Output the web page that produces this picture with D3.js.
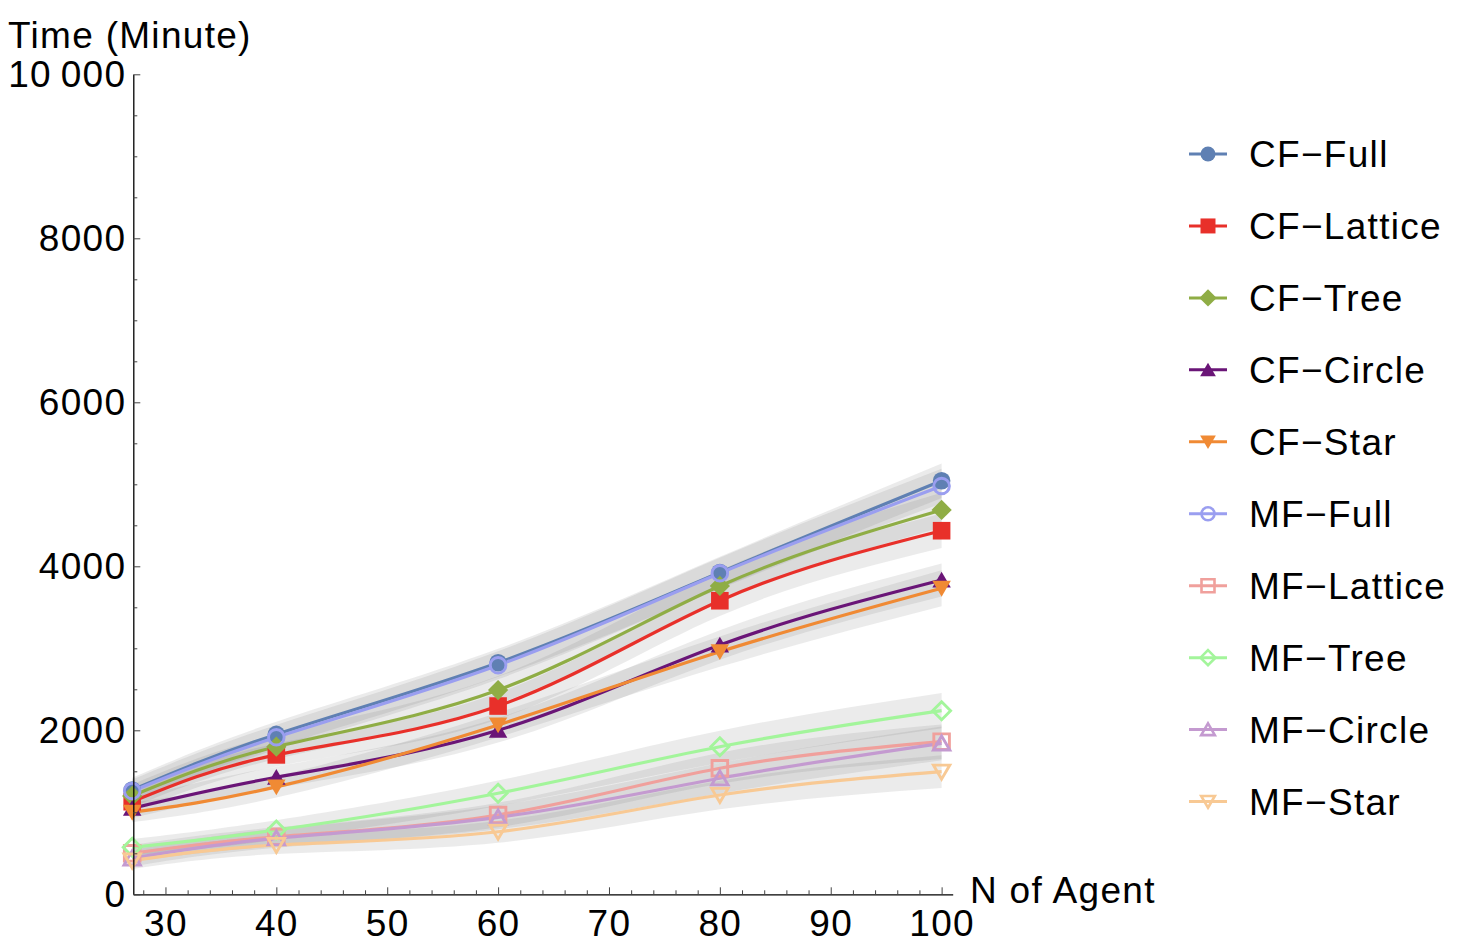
<!DOCTYPE html>
<html>
<head>
<meta charset="utf-8">
<script src="https://cdn.jsdelivr.net/npm/d3@7/dist/d3.min.js"></script>
<style>
  html, body { margin: 0; padding: 0; background: #fff; }
  svg text { font-family: "Liberation Sans", Arial, Helvetica, sans-serif; fill: #000; }
</style>
</head>
<body>
<svg id="chart" width="1480" height="950"></svg>
<script>
// ---------------- data ----------------
const nAgents = [27, 40, 60, 80, 100];

const seriesNames = ["CF\u2212Full", "CF\u2212Lattice", "CF\u2212Tree", "CF\u2212Circle", "CF\u2212Star",
                     "MF\u2212Full", "MF\u2212Lattice", "MF\u2212Tree", "MF\u2212Circle", "MF\u2212Star"];

const cfFull    = [1272, 1950, 2824, 3925, 5044];
const cfLattice = [1129, 1700, 2296, 3580, 4434];
const cfTree    = [1200, 1800, 2491, 3760, 4687];
const cfCircle  = [1049, 1427, 2000, 3040, 3833];
const cfStar    = [1000, 1310, 2065, 2959, 3732];
const mfFull    = [1260, 1915, 2793, 3915, 4979];
const mfLattice = [500, 702, 967, 1537, 1861];
const mfTree    = [573, 784, 1232, 1800, 2239];
const mfCircle  = [439, 683, 939, 1415, 1841];
const mfStar    = [410, 601, 763, 1211, 1495];

// half-width of the grey uncertainty band around each series
const cfFullErr    = [150, 155, 170, 190, 210];
const cfLatticeErr = [130, 140, 160, 185, 210];
const cfTreeErr    = [140, 150, 170, 190, 210];
const cfCircleErr  = [120, 130, 150, 180, 200];
const cfStarErr    = [120, 130, 150, 185, 220];
const mfFullErr    = [140, 150, 170, 190, 210];
const mfLatticeErr = [100, 115, 150, 190, 210];
const mfTreeErr    = [100, 120, 155, 195, 215];
const mfCircleErr  = [100, 115, 145, 185, 205];
const mfStarErr    = [100, 110, 135, 175, 200];

const xTicks = [30, 40, 50, 60, 70, 80, 90, 100];
const yTicks = [0, 2000, 4000, 6000, 8000, 10000];
const yTickLabels = ["0", "2000", "4000", "6000", "8000", "10\u2009000"];

// ---------------- styling ----------------
const seriesValues = [cfFull, cfLattice, cfTree, cfCircle, cfStar, mfFull, mfLattice, mfTree, mfCircle, mfStar];
const seriesErrs = [cfFullErr, cfLatticeErr, cfTreeErr, cfCircleErr, cfStarErr,
                    mfFullErr, mfLatticeErr, mfTreeErr, mfCircleErr, mfStarErr];
const colors = ["#5f80b3", "#e8302a", "#8fad45", "#6a1577", "#f08a34",
                "#9a9ef0", "#f0a09c", "#a3f59b", "#c49ad0", "#f8c994"];
const shapes = ["circle", "square", "diamond", "up", "down", "circle", "square", "diamond", "up", "down"];
const filled = [true, true, true, true, true, false, false, false, false, false];

const series = seriesNames.map((name, i) => ({
  name, color: colors[i], shape: shapes[i], filled: filled[i],
  pts: nAgents.map((n, j) => ({ x: n, y: seriesValues[i][j], e: seriesErrs[i][j] }))
}));

const svg = d3.select("#chart");
const FONT = 37, LS = "1.3px";

const x = d3.scaleLinear().domain([27.1, 101]).range([133.3, 952.7]);
const y = d3.scaleLinear().domain([0, 10000]).range([894.3, 74.3]);

function markerPath(shape, s) {
  const p = d3.path();
  if (shape === "circle") {
    p.arc(0, 0, s, 0, 2 * Math.PI); p.closePath();
  } else if (shape === "square") {
    p.rect(-s, -s, 2 * s, 2 * s);
  } else if (shape === "diamond") {
    const d = s * 1.15;
    p.moveTo(0, -d); p.lineTo(d, 0); p.lineTo(0, d); p.lineTo(-d, 0); p.closePath();
  } else if (shape === "up") {
    p.moveTo(0, -s * 0.95); p.lineTo(s * 1.05, s * 0.85); p.lineTo(-s * 1.05, s * 0.85); p.closePath();
  } else if (shape === "down") {
    p.moveTo(0, s * 0.95); p.lineTo(s * 1.05, -s * 0.85); p.lineTo(-s * 1.05, -s * 0.85); p.closePath();
  }
  return p.toString();
}

const curve = d3.curveNatural;

// bands
const area = d3.area().curve(curve)
  .x(d => x(d.x)).y0(d => y(d.y - d.e)).y1(d => y(d.y + d.e));
svg.append("g").selectAll("path").data(series).join("path")
  .attr("d", d => area(d.pts))
  .attr("fill", "rgb(120,120,120)").attr("fill-opacity", 0.15).attr("stroke", "none");

// lines
const line = d3.line().curve(curve).x(d => x(d.x)).y(d => y(d.y));
svg.append("g").selectAll("path").data(series).join("path")
  .attr("d", d => line(d.pts))
  .attr("fill", "none").attr("stroke", d => d.color).attr("stroke-width", 3.2);

// markers
series.forEach(s => {
  svg.append("g").selectAll("path").data(s.pts).join("path")
    .attr("transform", d => `translate(${x(d.x)},${y(d.y)})`)
    .attr("d", markerPath(s.shape, s.filled ? 8.8 : 7.8))
    .attr("fill", s.filled ? s.color : "none")
    .attr("stroke", s.filled ? "none" : s.color)
    .attr("stroke-width", s.filled ? 0 : 2.9);
});

// axes
const xMinor = d3.range(28, 101, 2).filter(v => v % 10 !== 0);
const yMinor = d3.range(500, 10000, 500).filter(v => v % 2000 !== 0);

const gx = svg.append("g").attr("transform", `translate(0,${y(0)})`);
gx.call(d3.axisBottom(x).tickValues(xTicks).tickSizeInner(-7).tickSizeOuter(0).tickPadding(15));
const gxm = svg.append("g").attr("transform", `translate(0,${y(0)})`);
gxm.call(d3.axisBottom(x).tickValues(xMinor).tickSizeInner(-4).tickSizeOuter(0).tickFormat(""));
gxm.select(".domain").remove();

const gy = svg.append("g").attr("transform", `translate(${x(27.1)},0)`);
gy.call(d3.axisLeft(y).tickValues(yTicks).tickSizeInner(-7).tickSizeOuter(0).tickPadding(7)
  .tickFormat((d, i) => yTickLabels[i]));
const gym = svg.append("g").attr("transform", `translate(${x(27.1)},0)`);
gym.call(d3.axisLeft(y).tickValues(yMinor).tickSizeInner(-4).tickSizeOuter(0).tickFormat(""));
gym.select(".domain").remove();

svg.selectAll(".domain").attr("stroke", "#000").attr("stroke-width", 1.3);
svg.selectAll(".tick line").attr("stroke", "#444").attr("stroke-width", 1);
svg.selectAll(".tick text").attr("font-size", FONT).style("letter-spacing", LS)
  .attr("font-family", "Liberation Sans, Arial, sans-serif").attr("fill", "#000");

// axis titles
svg.append("text").attr("x", 8).attr("y", 48).attr("font-size", FONT).style("letter-spacing", LS)
  .text("Time (Minute)");
svg.append("text").attr("x", 970).attr("y", 903).attr("font-size", FONT).style("letter-spacing", LS)
  .text("N of Agent");

// legend
const leg = svg.append("g").selectAll("g").data(series).join("g")
  .attr("transform", (d, i) => `translate(0,${154 + i * 71.95})`);
leg.append("line").attr("x1", 1189).attr("x2", 1227).attr("y1", 0).attr("y2", 0)
  .attr("stroke", d => d.color).attr("stroke-width", 3);
leg.append("path")
  .attr("transform", "translate(1208,0)")
  .attr("d", d => markerPath(d.shape, d.filled ? 7.5 : 6.5))
  .attr("fill", d => d.filled ? d.color : "none")
  .attr("stroke", d => d.filled ? "none" : d.color)
  .attr("stroke-width", d => d.filled ? 0 : 2.6);
leg.append("text").attr("x", 1249).attr("y", 13).attr("font-size", FONT).style("letter-spacing", LS)
  .text(d => d.name);
</script>
</body>
</html>
